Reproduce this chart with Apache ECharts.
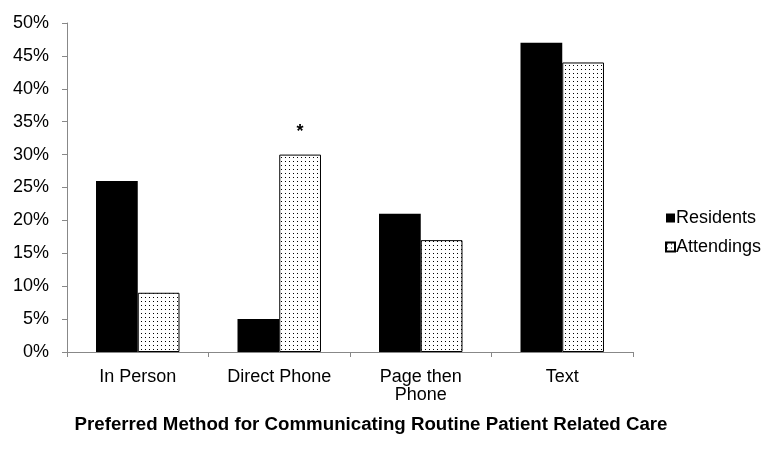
<!DOCTYPE html>
<html>
<head>
<meta charset="utf-8">
<script src="https://cdn.jsdelivr.net/npm/echarts@6/dist/echarts.min.js"></script>
<style>html,body{margin:0;padding:0;background:#fff}#c{width:782px;height:458px}</style>
</head>
<body>
<div id="c"></div>
<script>
var categories = ['In Person', 'Direct Phone', 'Page then\nPhone', 'Text'];
var residents = [26, 5, 21, 47];
var attendings = [9, 30, 17, 44];
var attendingsMarks = ['', '*', '', ''];
var seriesNames = ['Residents', 'Attendings'];
var xTitle = 'Preferred Method for Communicating Routine Patient Related Care';

var pc = document.createElement('canvas');
pc.width = 4; pc.height = 4;
var ctx = pc.getContext('2d');
ctx.fillStyle = '#fff'; ctx.fillRect(0, 0, 4, 4);
ctx.fillStyle = '#000'; ctx.fillRect(1, 1, 1, 1);
var dotPattern = { image: pc, repeat: 'repeat' };

var font = 'Liberation Sans, Arial, sans-serif';
var chart = echarts.init(document.getElementById('c'), null, { renderer: 'canvas' });
chart.setOption({
  animation: false,
  backgroundColor: '#fff',
  textStyle: { fontFamily: font },
  grid: { left: 67, right: 149, top: 23, bottom: 106 },
  legend: {
    orient: 'vertical', left: 660, top: 204, itemWidth: 9, itemHeight: 9, itemGap: 11, icon: 'rect',
    textStyle: { fontSize: 18, color: '#000', fontFamily: font, padding: [0, 0, 0, -4] },
    data: seriesNames
  },
  xAxis: {
    type: 'category', data: categories,
    name: xTitle, nameLocation: 'middle', nameGap: 63,
    nameTextStyle: { fontSize: 18.7, fontWeight: 'bold', color: '#000', fontFamily: font, padding: [0, 0, 0, 42] },
    axisLine: { lineStyle: { color: '#888', width: 1 } },
    axisTick: { show: true, length: 5, lineStyle: { color: '#888' } },
    axisLabel: { fontSize: 18, color: '#000', margin: 16, lineHeight: 18, fontFamily: font }
  },
  yAxis: {
    type: 'value', min: 0, max: 50, interval: 5,
    axisLine: { show: true, lineStyle: { color: '#888', width: 1 } },
    axisTick: { show: true, length: 5, lineStyle: { color: '#888' } },
    splitLine: { show: false },
    axisLabel: { fontSize: 18, color: '#000', margin: 18, formatter: '{value}%', fontFamily: font }
  },
  series: [
    {
      name: seriesNames[0], type: 'bar', data: residents,
      barGap: '0%', barCategoryGap: '41%',
      itemStyle: { color: '#000' }
    },
    {
      name: seriesNames[1], type: 'bar', data: attendings,
      itemStyle: { color: dotPattern, borderColor: '#000', borderWidth: 1 },
      label: {
        show: true, position: 'top', distance: 14, fontSize: 18, fontWeight: 'bold', color: '#000',
        formatter: function (p) { return attendingsMarks[p.dataIndex]; }
      }
    }
  ]
});
</script>
</body>
</html>
